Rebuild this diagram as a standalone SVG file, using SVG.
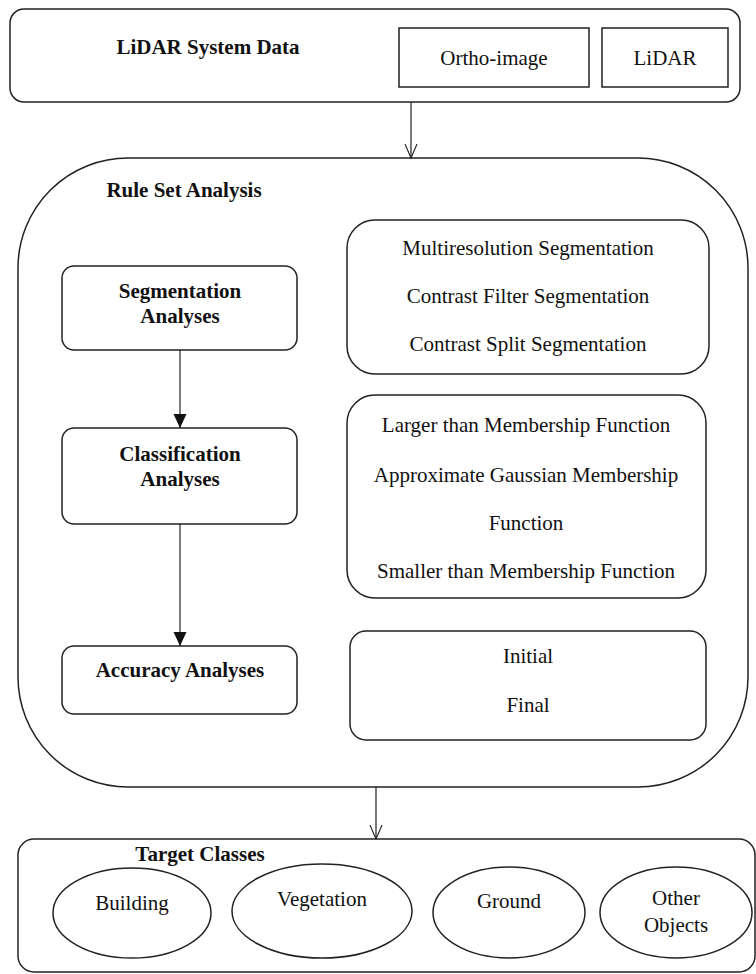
<svg xmlns="http://www.w3.org/2000/svg" width="756" height="974" viewBox="0 0 756 974">
<style>
.b{fill:#fff;stroke:#222;stroke-width:1.5}
.t{font-family:"Liberation Serif",serif;font-size:21px;fill:#111;text-anchor:middle}
.tb{font-family:"Liberation Serif",serif;font-size:21px;font-weight:bold;fill:#111;text-anchor:middle}
.c{stroke:#222;stroke-width:1.2;fill:none}
</style>
<defs>
<marker id="open" markerWidth="16" markerHeight="16" refX="7" refY="14" markerUnits="userSpaceOnUse" viewBox="0 0 14 16">
<path d="M1 0 L7 14 L13 0" fill="none" stroke="#222" stroke-width="1.1"/>
</marker>
<marker id="fill" markerWidth="14" markerHeight="16" refX="6.5" refY="14" markerUnits="userSpaceOnUse" viewBox="0 0 13 16">
<path d="M0 0 L13 0 L6.5 14 Z" fill="#111"/>
</marker>
</defs>
<rect width="756" height="974" fill="#fff"/>
<g id="lidar-system-data">
<rect class="b" x="10" y="9" width="730" height="93" rx="14"/>
<text class="tb" x="208" y="54">LiDAR System Data</text>
</g>
<g id="ortho-image">
<rect class="b" x="399" y="28" width="190" height="59"/>
<text class="t" x="494" y="65">Ortho-image</text>
</g>
<g id="lidar">
<rect class="b" x="602" y="28" width="126" height="59"/>
<text class="t" x="665" y="65">LiDAR</text>
</g>
<g id="rule-set-analysis">
<rect class="b" x="18" y="158" width="730" height="629" rx="110"/>
<text class="tb" x="184" y="197">Rule Set Analysis</text>
</g>
<g id="segmentation-analyses">
<rect class="b" x="62" y="266" width="235" height="84" rx="12"/>
<text class="tb" x="180" y="298">Segmentation</text>
<text class="tb" x="180" y="323">Analyses</text>
</g>
<g id="classification-analyses">
<rect class="b" x="62" y="428" width="235" height="96" rx="12"/>
<text class="tb" x="180" y="461">Classification</text>
<text class="tb" x="180" y="486">Analyses</text>
</g>
<g id="accuracy-analyses">
<rect class="b" x="62" y="646" width="235" height="68" rx="12"/>
<text class="tb" x="180" y="677">Accuracy Analyses</text>
</g>
<g id="segmentation-methods">
<rect class="b" x="347" y="220" width="362" height="154" rx="28"/>
<text class="t" x="528" y="255">Multiresolution Segmentation</text>
<text class="t" x="528" y="303">Contrast Filter Segmentation</text>
<text class="t" x="528" y="351">Contrast Split Segmentation</text>
</g>
<g id="membership-functions">
<rect class="b" x="347" y="395" width="359" height="203" rx="28"/>
<text class="t" x="526" y="432">Larger than Membership Function</text>
<text class="t" x="526" y="482">Approximate Gaussian Membership</text>
<text class="t" x="526" y="530">Function</text>
<text class="t" x="526" y="578">Smaller than Membership Function</text>
</g>
<g id="accuracy-stages">
<rect class="b" x="350" y="631" width="356" height="109" rx="16"/>
<text class="t" x="528" y="663">Initial</text>
<text class="t" x="528" y="712">Final</text>
</g>
<g id="target-classes">
<rect class="b" x="18" y="839" width="737" height="133" rx="16"/>
<text class="tb" x="200" y="861">Target Classes</text>
</g>
<g id="building">
<ellipse class="b" cx="132" cy="913" rx="79" ry="45"/>
<text class="t" x="132" y="910">Building</text>
</g>
<g id="vegetation">
<ellipse class="b" cx="322" cy="911" rx="90" ry="47"/>
<text class="t" x="322" y="906">Vegetation</text>
</g>
<g id="ground">
<ellipse class="b" cx="509" cy="912.5" rx="76" ry="45.5"/>
<text class="t" x="509" y="908">Ground</text>
</g>
<g id="other-objects">
<ellipse class="b" cx="676" cy="912.5" rx="76" ry="45.5"/>
<text class="t" x="676" y="905">Other</text>
<text class="t" x="676" y="932">Objects</text>
</g>
<g id="connectors">
<line class="c" x1="411" y1="102" x2="411" y2="158" marker-end="url(#open)"/>
<line class="c" x1="180" y1="350" x2="180" y2="428" marker-end="url(#fill)"/>
<line class="c" x1="180" y1="524" x2="180" y2="646" marker-end="url(#fill)"/>
<line class="c" x1="376" y1="787" x2="376" y2="839" marker-end="url(#open)"/>
</g>
</svg>
